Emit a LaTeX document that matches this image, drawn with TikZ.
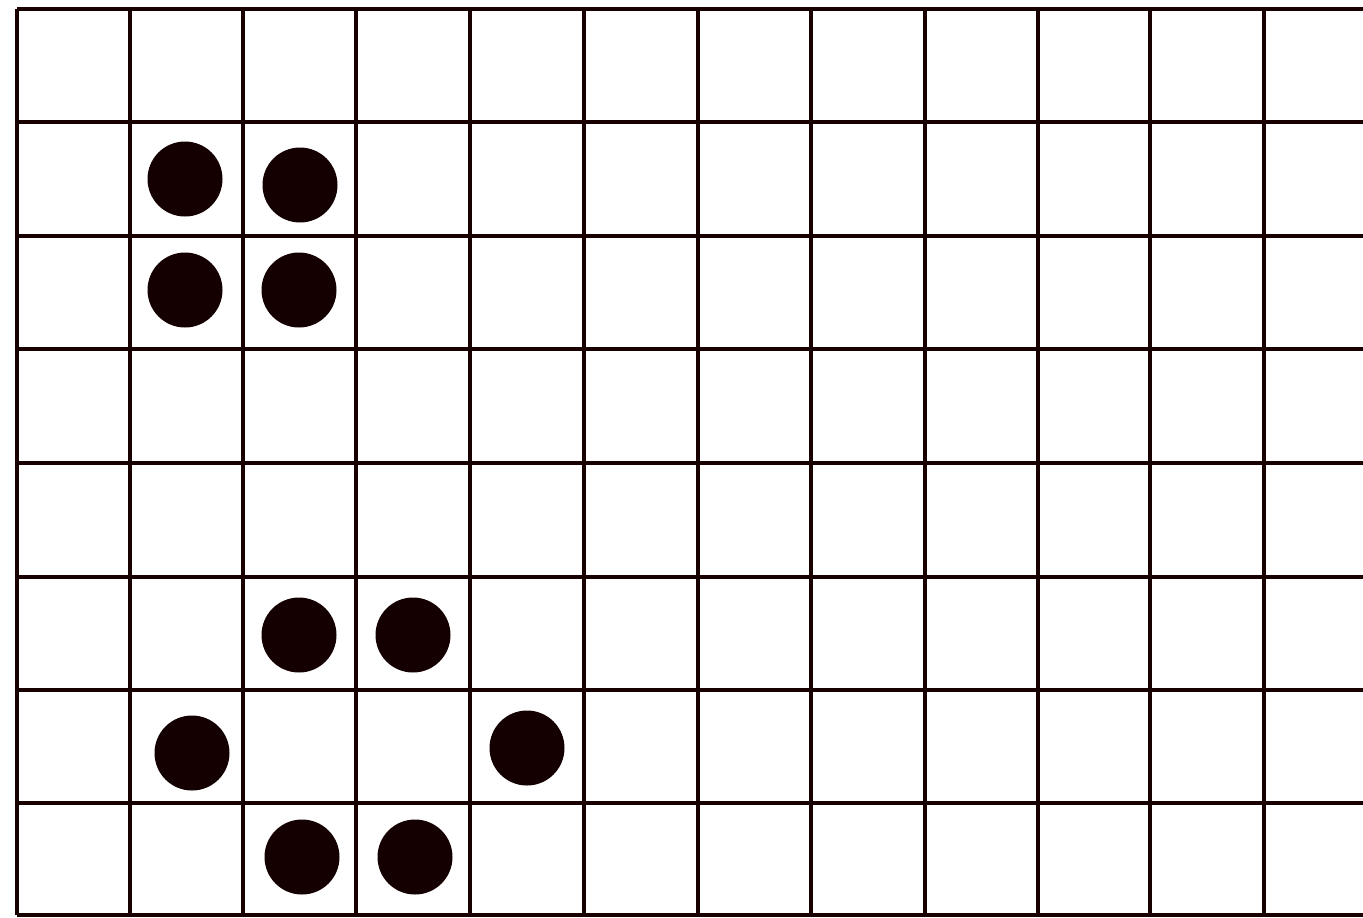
\documentclass[tikz,border=0pt]{standalone}
\begin{document}
\begin{tikzpicture}[x=0.02cm,y=-0.02cm,
  gridline/.style={line width=2.3pt,color=black!90!red},
  stone/.style={fill=black!92!red}]
\useasboundingbox (0,0) rectangle (1363,917);
\fill[white] (0,0) rectangle (1363,917);
\foreach \x in {17,130,243,356,470,584,698,811,925,1038,1150,1264}
  \draw[gridline] (\x,9) -- (\x,915);
\foreach \y in {9,122,236,349,463,577,690,803,915}
  \draw[gridline] (17,\y) -- (1363,\y);
\foreach \cx/\cy in {185/179,300/185,185/290,299/290,299/635,413/635,192/753,527/748,302/857,415/857}
  \fill[stone] (\cx,\cy) circle (37.5);
\end{tikzpicture}
\end{document}
